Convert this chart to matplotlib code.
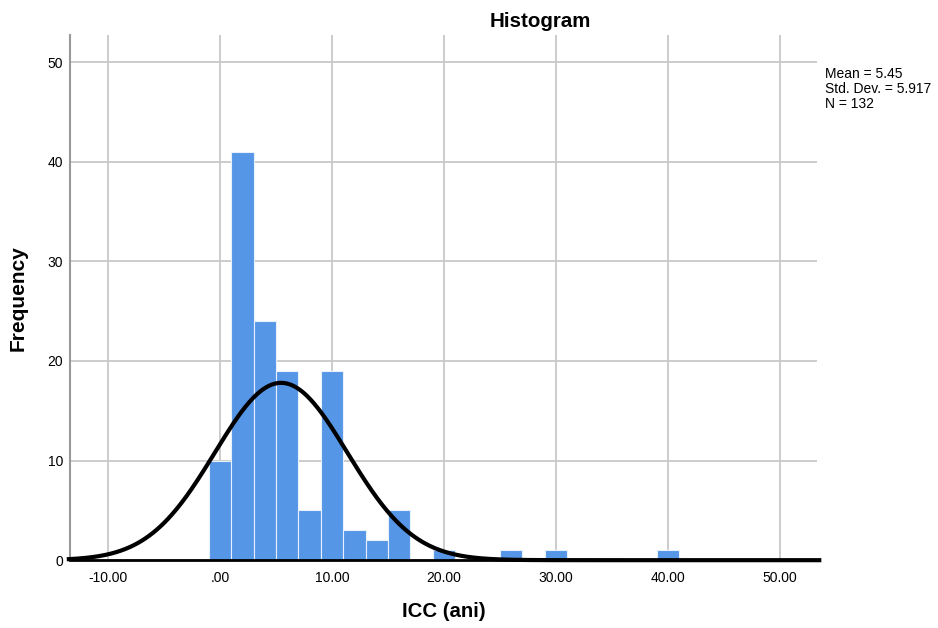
import numpy as np
import matplotlib.pyplot as plt

plt.rcParams['font.family'] = ['Liberation Sans', 'DejaVu Sans']

# histogram bins (width 2, starting at -1) and counts
bin_edges = [-1, 1, 3, 5, 7, 9, 11, 13, 15, 17, 19, 21, 23, 25, 27, 29, 31,
             33, 35, 37, 39, 41]
counts = [10, 41, 24, 19, 5, 19, 3, 2, 5, 0, 1, 0, 0, 1, 0, 1, 0, 0, 0, 0, 1]

mean = 5.45
std_dev = 5.917
n_obs = 132
bin_width = 2

x_ticks = [-10, 0, 10, 20, 30, 40, 50]
x_labels = ['-10.00', '.00', '10.00', '20.00', '30.00', '40.00', '50.00']
y_ticks = [0, 10, 20, 30, 40, 50]

fig = plt.figure(figsize=(9.38, 6.28), dpi=100)
ax = fig.add_axes([0.0746, 0.108, 0.7964, 0.836])

ax.set_axisbelow(True)
ax.grid(True, color='#c8c8c8', linewidth=1.3)

lefts = np.array(bin_edges[:-1])
ax.bar(lefts, counts, width=bin_width, align='edge', color='#5596e6',
       edgecolor='#e8f0fb', linewidth=0.8, zorder=2)

xs = np.linspace(-13.5, 53.5, 600)
curve = n_obs * bin_width / (std_dev * np.sqrt(2 * np.pi)) * \
    np.exp(-0.5 * ((xs - mean) / std_dev) ** 2)
ax.plot(xs, curve, color='black', linewidth=3, zorder=3, clip_on=False)

ax.set_xlim(-13.4, 53.3)
ax.set_ylim(0, 52.7)
ax.set_xticks(x_ticks)
ax.set_xticklabels(x_labels)
ax.set_yticks(y_ticks)
ax.tick_params(length=0, labelsize=10)
ax.tick_params(axis='x', pad=8)
ax.tick_params(axis='y', pad=5)

for s in ['top', 'right']:
    ax.spines[s].set_visible(False)
ax.spines['left'].set_color('#999999')
ax.spines['left'].set_linewidth(1.5)
ax.spines['bottom'].set_color('black')
ax.spines['bottom'].set_linewidth(2)

fig.text(0.576, 0.957, 'Histogram', fontsize=14.8, fontweight='bold',
         ha='center', va='baseline')
ax.set_xlabel('ICC (ani)', fontsize=14.7, fontweight='bold', labelpad=12)
ax.set_ylabel('Frequency', fontsize=15, fontweight='bold', labelpad=14)

fig.text(0.880, 0.894, 'Mean = %.2f\nStd. Dev. = %.3f\nN = %d' % (mean, std_dev, n_obs),
         fontsize=10, va='top', ha='left', linespacing=1.1)

fig.savefig('out.png', dpi=100)
